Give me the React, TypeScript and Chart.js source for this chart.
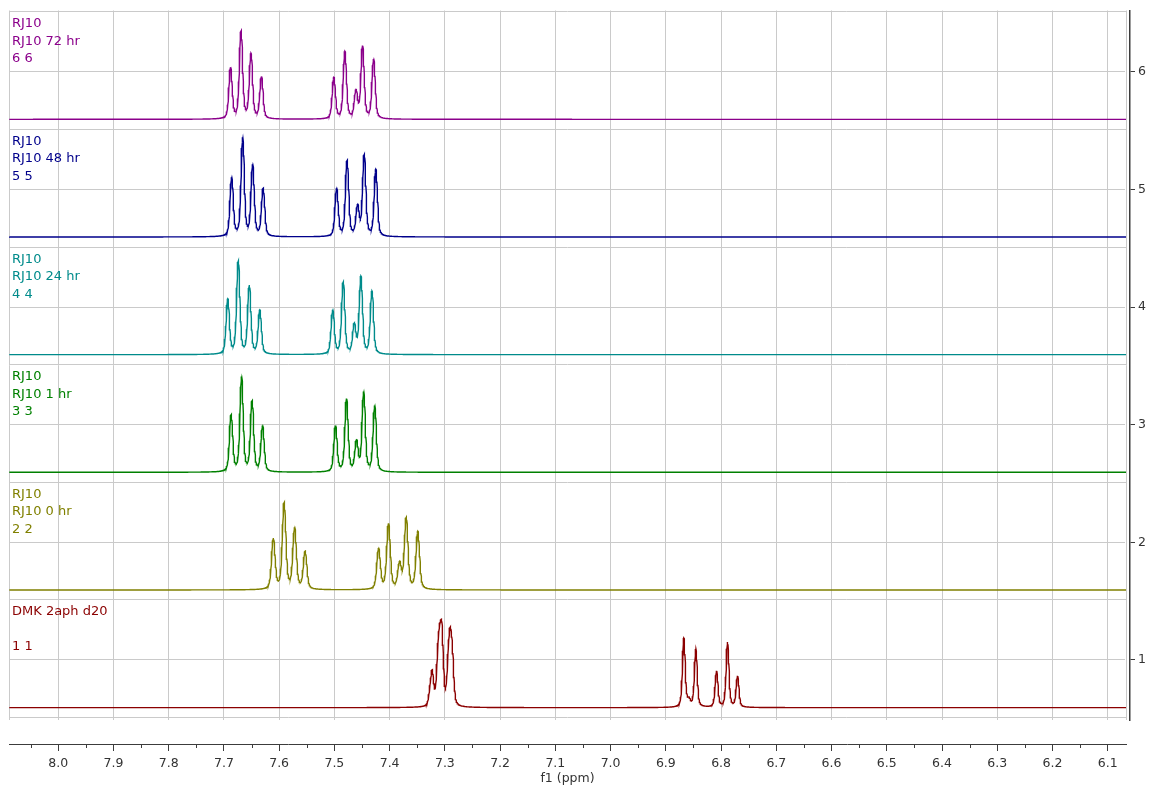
import { useEffect, useRef } from 'react';
import { Chart, registerables } from 'chart.js';

Chart.register(...registerables);

// Chemical-shift window (ppm), drawn high → low
const PPM_MAX = 8.089;
const PPM_MIN = 6.067;
const PPM_STEP = 0.0005;

const X_TICKS = [8.0, 7.9, 7.8, 7.7, 7.6, 7.5, 7.4, 7.3, 7.2, 7.1, 7.0, 6.9, 6.8, 6.7, 6.6, 6.5, 6.4, 6.3, 6.2, 6.1];
const X_MINOR_TICKS = [8.05, 7.95, 7.85, 7.75, 7.65, 7.55, 7.45, 7.35, 7.25, 7.15, 7.05, 6.95, 6.85, 6.75, 6.65, 6.55, 6.45, 6.35, 6.25, 6.15];

// Stack offsets: spectrum n sits in the band [n - 0.49, n + 0.51]
const Y_MIN = 0.49;
const Y_MAX = 6.52;
const Y_TICKS = [1, 2, 3, 4, 5, 6];
const BAND_EDGES = [0.51, 1.51, 2.51, 3.51, 4.51, 5.51, 6.51];
const BASELINE_DROP = 0.405;

// Peak lists (ppm, intensity in stack units)
const SHIFTS_72HR = [7.688, 7.669, 7.651, 7.632, 7.501, 7.481, 7.461, 7.449, 7.429];
const HEIGHTS_72HR = [0.443, 0.754, 0.562, 0.364, 0.358, 0.579, 0.254, 0.627, 0.513];

const SHIFTS_48HR = [7.686, 7.666, 7.648, 7.629, 7.496, 7.477, 7.458, 7.446, 7.425];
const HEIGHTS_48HR = [0.508, 0.847, 0.619, 0.415, 0.415, 0.653, 0.28, 0.703, 0.576];

const SHIFTS_24HR = [7.693, 7.674, 7.654, 7.635, 7.503, 7.484, 7.464, 7.452, 7.432];
const HEIGHTS_24HR = [0.475, 0.797, 0.593, 0.381, 0.381, 0.619, 0.271, 0.669, 0.542];

const SHIFTS_1HR = [7.687, 7.668, 7.649, 7.63, 7.498, 7.478, 7.46, 7.447, 7.427];
const HEIGHTS_1HR = [0.492, 0.814, 0.61, 0.398, 0.398, 0.627, 0.28, 0.686, 0.568];

const SHIFTS_0HR = [7.6105, 7.591, 7.572, 7.553, 7.42, 7.402, 7.382, 7.37, 7.349];
const HEIGHTS_0HR = [0.441, 0.746, 0.534, 0.331, 0.356, 0.568, 0.246, 0.619, 0.5];

const SHIFTS_DMK = [7.3269, 7.3228, 7.313, 7.3094, 7.3052, 7.2938, 7.2902, 7.2862, 6.8674, 6.858, 6.8457, 6.8082, 6.7883, 6.7702];
const HEIGHTS_DMK = [0.195, 0.322, 0.509, 0.712, 0.712, 0.517, 0.687, 0.517, 0.593, 0.09, 0.5, 0.314, 0.559, 0.271];

const LABELS_72HR = ['RJ10', 'RJ10 72 hr', '6 6'];
const LABELS_48HR = ['RJ10', 'RJ10 48 hr', '5 5'];
const LABELS_24HR = ['RJ10', 'RJ10 24 hr', '4 4'];
const LABELS_1HR = ['RJ10', 'RJ10 1 hr', '3 3'];
const LABELS_0HR = ['RJ10', 'RJ10 0 hr', '2 2'];
const LABELS_DMK = ['DMK 2aph d20', '', '1 1'];

const GRID = '#cacaca';
const AXIS = '#3c3c3c';
const FONT = 'DejaVu Sans, Verdana, sans-serif';

type Spectrum = {
  slot: number;
  color: string;
  labels: string[];
  shifts: number[];
  heights: number[];
  fwhm: number;
  split: number;
};

const SPECTRA: Spectrum[] = [
  { slot: 6, color: '#8b008b', labels: LABELS_72HR, shifts: SHIFTS_72HR, heights: HEIGHTS_72HR, fwhm: 0.0058, split: 0.0026 },
  { slot: 5, color: '#00008b', labels: LABELS_48HR, shifts: SHIFTS_48HR, heights: HEIGHTS_48HR, fwhm: 0.0058, split: 0.0026 },
  { slot: 4, color: '#008b8b', labels: LABELS_24HR, shifts: SHIFTS_24HR, heights: HEIGHTS_24HR, fwhm: 0.0058, split: 0.0026 },
  { slot: 3, color: '#008000', labels: LABELS_1HR, shifts: SHIFTS_1HR, heights: HEIGHTS_1HR, fwhm: 0.0058, split: 0.0026 },
  { slot: 2, color: '#808000', labels: LABELS_0HR, shifts: SHIFTS_0HR, heights: HEIGHTS_0HR, fwhm: 0.0066, split: 0.0026 },
  { slot: 1, color: '#8b0000', labels: LABELS_DMK, shifts: SHIFTS_DMK, heights: HEIGHTS_DMK, fwhm: 0.0054, split: 0.0018 },
];

// Pseudo-Voigt line, unit height at the centre
const LORENTZ_FRACTION = 0.5;
function pseudoVoigt(d: number, fwhm: number): number {
  const r = (2 * d) / fwhm;
  const lor = 1 / (1 + r * r);
  const gau = Math.exp(-Math.LN2 * r * r);
  return LORENTZ_FRACTION * lor + (1 - LORENTZ_FRACTION) * gau;
}

// Each resonance carries a small unresolved splitting; normalised to unit height at its centre
function lineShape(d: number, fwhm: number, split: number): number {
  const h = split / 2;
  return (pseudoVoigt(d - h, fwhm) + pseudoVoigt(d + h, fwhm)) / (2 * pseudoVoigt(h, fwhm));
}

// Line amplitudes so that the summed trace reaches each listed peak height
function amplitudesFor(sp: Spectrum): number[] {
  const { shifts, heights, fwhm, split } = sp;
  const amps = heights.slice();
  for (let it = 0; it < 120; it++) {
    for (let i = 0; i < shifts.length; i++) {
      let s = 0;
      for (let j = 0; j < shifts.length; j++) s += amps[j] * lineShape(shifts[i] - shifts[j], fwhm, split);
      amps[i] = Math.max(0, amps[i] + 0.4 * (heights[i] - s));
    }
  }
  return amps;
}

function trace(sp: Spectrum) {
  const amps = amplitudesFor(sp);
  const base = sp.slot - BASELINE_DROP;
  const pts: { x: number; y: number }[] = [];
  const n = Math.round((PPM_MAX - PPM_MIN) / PPM_STEP);
  for (let i = 0; i <= n; i++) {
    const x = PPM_MIN + i * PPM_STEP;
    let y = base;
    for (let j = 0; j < sp.shifts.length; j++) y += amps[j] * lineShape(x - sp.shifts[j], sp.fwhm, sp.split);
    pts.push({ x, y });
  }
  return pts;
}

const LABEL_OFFSETS = [15.5, 33, 50.5];

const stackLabels = {
  id: 'stackLabels',
  afterDatasetsDraw(chart: any) {
    const { ctx, chartArea, scales } = chart;
    ctx.save();
    ctx.font = `13px ${FONT}`;
    ctx.textBaseline = 'alphabetic';
    ctx.textAlign = 'left';
    for (const sp of SPECTRA) {
      const top = scales.y.getPixelForValue(sp.slot + 0.51);
      ctx.fillStyle = sp.color;
      sp.labels.forEach((t, i) => {
        if (t) ctx.fillText(t, chartArea.left + 3, top + LABEL_OFFSETS[i]);
      });
    }
    ctx.restore();
  },
};

const minorTicks = {
  id: 'minorTicks',
  afterDraw(chart: any) {
    const s = chart.scales.x2;
    const { ctx } = chart;
    ctx.save();
    ctx.strokeStyle = AXIS;
    ctx.lineWidth = 1;
    ctx.beginPath();
    for (const v of X_MINOR_TICKS) {
      const px = Math.round(s.getPixelForValue(v)) + 0.5;
      ctx.moveTo(px, s.top);
      ctx.lineTo(px, s.top + 4);
    }
    ctx.stroke();
    ctx.restore();
  },
};

export default function App() {
  const canvasRef = useRef<HTMLCanvasElement | null>(null);

  useEffect(() => {
    const canvas = canvasRef.current;
    if (!canvas) return;
    const tickFont = { family: FONT, size: 12.5 };
    const chart = new Chart(canvas, {
      type: 'line',
      data: {
        datasets: SPECTRA.map((sp) => ({
          data: trace(sp),
          borderColor: sp.color,
          borderWidth: 1.4,
          pointRadius: 0,
          tension: 0,
          fill: false,
        })),
      },
      options: {
        animation: false,
        responsive: false,
        parsing: false,
        normalized: true,
        events: [],
        layout: { padding: { left: 9, top: 9, right: 0, bottom: 0 } },
        plugins: { legend: { display: false }, tooltip: { enabled: false } },
        scales: {
          x: {
            type: 'linear',
            position: 'bottom',
            reverse: true,
            min: PPM_MIN,
            max: PPM_MAX,
            afterBuildTicks: (s: any) => {
              s.ticks = [PPM_MAX, ...X_TICKS, PPM_MIN].map((value) => ({ value }));
            },
            grid: { color: GRID, lineWidth: 1, drawTicks: false },
            border: { display: false },
            ticks: { display: false },
            afterFit: (s: any) => {
              s.height = 24;
            },
          },
          x2: {
            type: 'linear',
            position: 'bottom',
            weight: 1,
            reverse: true,
            min: PPM_MIN,
            max: PPM_MAX,
            afterBuildTicks: (s: any) => {
              s.ticks = X_TICKS.map((value) => ({ value }));
            },
            grid: { drawOnChartArea: false, drawTicks: true, tickLength: 7, tickColor: AXIS },
            border: { display: true, color: AXIS, width: 1 },
            ticks: {
              color: '#333',
              font: tickFont,
              padding: 5,
              maxRotation: 0,
              autoSkip: false,
              callback: (v: any) => Number(v).toFixed(1),
            },
            title: { display: true, text: 'f1 (ppm)', color: '#333', font: tickFont, padding: { top: 0, bottom: 1 } },
            afterFit: (s: any) => {
              s.height = 43;
            },
          },
          yGap: {
            type: 'linear',
            position: 'right',
            min: Y_MIN,
            max: Y_MAX,
            afterBuildTicks: (s: any) => {
              s.ticks = BAND_EDGES.map((value) => ({ value }));
            },
            grid: { color: GRID, drawTicks: false },
            border: { display: false },
            ticks: { display: false },
            afterFit: (s: any) => {
              s.width = 4;
            },
          },
          y: {
            type: 'linear',
            position: 'right',
            weight: 1,
            min: Y_MIN,
            max: Y_MAX,
            afterBuildTicks: (s: any) => {
              s.ticks = Y_TICKS.map((value) => ({ value }));
            },
            grid: { color: GRID, drawTicks: true, tickLength: 5, tickColor: AXIS },
            border: { display: true, color: AXIS, width: 1.5 },
            ticks: { color: '#333', font: tickFont, padding: 3, callback: (v: any) => String(v) },
            afterFit: (s: any) => {
              s.width = 19;
            },
          },
        },
      } as any,
      plugins: [stackLabels, minorTicks],
    });
    return () => chart.destroy();
  }, []);

  return (
    <div style={{ position: 'absolute', left: 0, top: 0, width: 1149, height: 787, background: '#fff' }}>
      <canvas ref={canvasRef} width={1149} height={787} style={{ display: 'block' }} />
    </div>
  );
}
